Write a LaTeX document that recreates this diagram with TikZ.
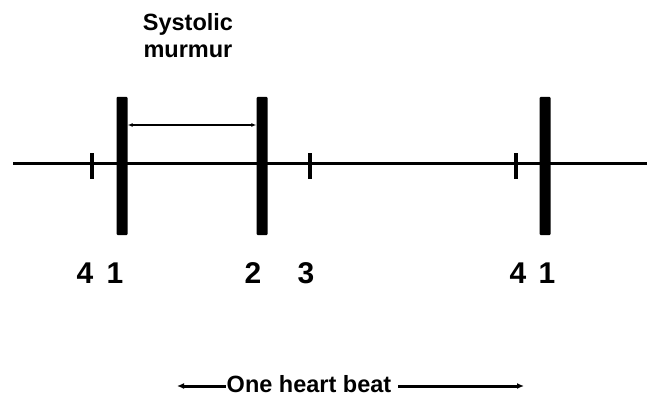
\documentclass[tikz,border=0pt]{standalone}
\usepackage{fontspec}
\setmainfont{Liberation Sans}
\usetikzlibrary{arrows.meta}
\begin{document}
\begin{tikzpicture}[x=1pt,y=-1pt,
  bar/.style={fill=black,draw=none,minimum width=11pt,minimum height=138pt,inner sep=0pt,rounded corners=1pt},
  tickmark/.style={fill=black,draw=none,minimum width=4pt,minimum height=26pt,inner sep=0pt},
  num/.style={font=\fontsize{30}{32}\selectfont\bfseries,inner sep=0pt,anchor=base},
  lbl/.style={font=\fontsize{23.5}{27}\selectfont\bfseries,inner sep=0pt,align=center},
  axis/.style={line width=3pt},
  span/.style={line width=3pt,-{Latex[length=7pt,width=6pt]}},
  murmur/.style={line width=2pt,{Latex[length=5pt,width=4pt]}-{Latex[length=5pt,width=4pt]}}]
\useasboundingbox (0,0) rectangle (647,403);
% baseline
\coordinate (L) at (13,164);
\coordinate (R) at (647,164);
\draw[axis] (L) -- (R);
% ticks and bars
\node[tickmark] (t4a) at (92,166) {};
\node[bar] (b1a) at (122,166) {};
\node[bar] (b2) at (262,166) {};
\node[tickmark] (t3) at (310,166) {};
\node[tickmark] (t4b) at (516,166) {};
\node[bar] (b1b) at (545,166) {};
% systolic murmur interval
\coordinate (m1) at (b1a.east |- 0,125);
\coordinate (m2) at (b2.west |- 0,125);
\draw[murmur] (m1) -- (m2);
\node[lbl] (sm) at (188,36) {Systolic\\murmur};
% numbers
\node[num] (n4a) at (85,283) {4};
\node[num] (n1a) at (115,283) {1};
\node[num] (n2) at (253,283) {2};
\node[num] (n3) at (306,283) {3};
\node[num] (n4b) at (518,283) {4};
\node[num] (n1b) at (547,283) {1};
% one heart beat
\node[lbl,inner sep=1pt] (hb) at (309,384) {One heart beat};
\coordinate (hbL) at (177,386);
\coordinate (hbR) at (524,386);
\draw[span] (hb.west |- hbL) -- (hbL);
\draw[span] ([xshift=6pt]hb.east |- hbR) -- (hbR);
\end{tikzpicture}
\end{document}
